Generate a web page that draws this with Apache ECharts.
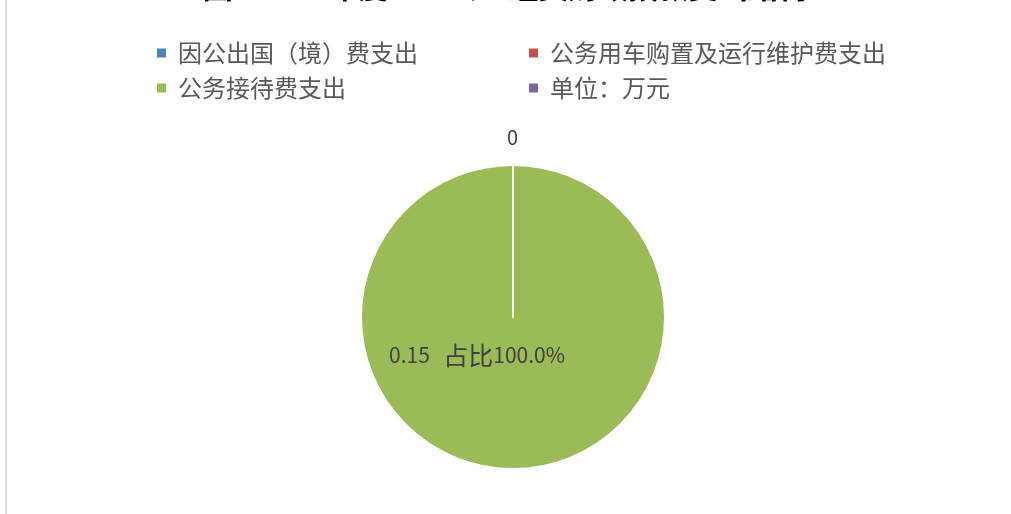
<!DOCTYPE html>
<html lang="zh" style="height: 100%">
<head>
  <meta charset="utf-8">
</head>
<body style="height: 100%; margin: 0; background: #fff">
  <div id="container" style="height: 100%"></div>
  <script type="text/javascript" src="https://cdn.jsdelivr.net/npm/echarts@6/dist/echarts.min.js"></script>
  <script type="text/javascript">
    // data
    var titleText = '图3 2022年度“三公”经费财政拨款支出结构';
    var names = ['因公出国（境）费支出', '公务用车购置及运行维护费支出', '公务接待费支出', '单位：万元'];
    var values = [0, 0, 0.15, '-'];
    var colors = ['#4F81BD', '#C0504D', '#9BBB59', '#8064A2'];
    // drawing order: the full slice first, so the zero slices' white edges stay on top
    var drawOrder = [2, 0, 1, 3];

    var font = "'Microsoft YaHei', 'Noto Sans CJK SC', sans-serif";
    var dom = document.getElementById('container');
    var myChart = echarts.init(dom, null, { renderer: 'canvas' });

    var pieData = drawOrder.map(function (i) {
      var item = { name: names[i], value: values[i], itemStyle: { color: colors[i] } };
      if (values[i] === 0) {
        item.label = {
          position: 'outside',
          offset: [10, 0],
          formatter: '{c}'
        };
        item.labelLine = { show: false, length: 28, length2: 0 };
      } else {
        item.label = {
          position: 'center',
          offset: [-36, 38],
          formatter: function (p) {
            return '{n|' + p.value + '}   {c|占比}{n|' + p.percent.toFixed(1) + '%}';
          },
          rich: {
            n: { fontSize: 21, color: '#404040', fontFamily: font },
            c: { fontSize: 25, color: '#404040', fontFamily: font }
          }
        };
      }
      return item;
    });

    var legendText = {
      color: '#595959', fontSize: 24, lineHeight: 24, fontFamily: font,
      padding: [0, 0, 0, 6]
    };

    var option = {
      backgroundColor: '#fff',
      animation: false,
      title: {
        text: titleText,
        left: 'center',
        top: -33,
        textStyle: { fontSize: 30, fontWeight: 'bold', color: '#000', fontFamily: font }
      },
      graphic: [{
        type: 'line',
        shape: { x1: 6, y1: 0, x2: 6, y2: 514 },
        style: { stroke: '#d9d9d9', lineWidth: 2 }
      }],
      legend: [{
        orient: 'vertical',
        left: 150,
        top: 36,
        itemGap: 11,
        itemWidth: 11,
        itemHeight: 11,
        icon: 'rect',
        data: [names[0], names[2]],
        textStyle: legendText
      }, {
        orient: 'vertical',
        left: 522,
        top: 36,
        itemGap: 11,
        itemWidth: 11,
        itemHeight: 11,
        icon: 'rect',
        data: [names[1], names[3]],
        textStyle: legendText
      }],
      series: [{
        type: 'pie',
        center: [513, 317],
        radius: 152,
        startAngle: 90,
        clockwise: true,
        avoidLabelOverlap: false,
        itemStyle: { borderColor: '#fff', borderWidth: 2 },
        label: { color: '#404040', fontSize: 20, fontFamily: font },
        emphasis: { disabled: true },
        data: pieData
      }]
    };

    myChart.setOption(option);
    window.addEventListener('resize', myChart.resize);
  </script>
</body>
</html>
